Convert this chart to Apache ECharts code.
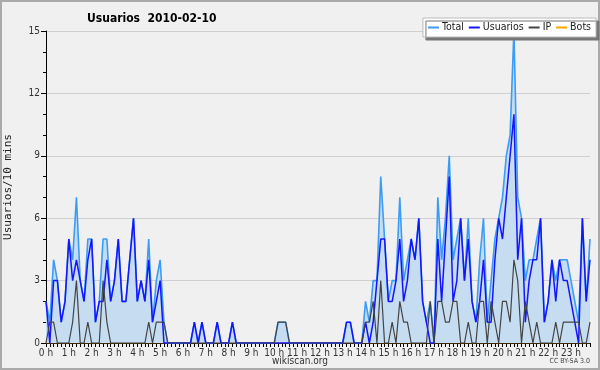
<!DOCTYPE html>
<html>
<head>
<meta charset="utf-8">
<script src="https://cdn.jsdelivr.net/npm/echarts@6/dist/echarts.min.js"></script>
<style>
  html, body { margin: 0; padding: 0; background: #f0f0f0; }
  #chart { width: 600px; height: 370px; }
</style>
</head>
<body>
<div id="chart"></div>
<script>
// horas del eje x (cada hora = 6 intervalos de 10 min)
var hours = ['0 h', '1 h', '2 h', '3 h', '4 h', '5 h', '6 h', '7 h', '8 h', '9 h', '10 h', '11 h',
  '12 h', '13 h', '14 h', '15 h', '16 h', '17 h', '18 h', '19 h', '20 h', '21 h', '22 h', '23 h'];
var yTicks = [0, 3, 6, 9, 12, 15];

// valores cada 10 minutos
var total = [
  2, 1, 4, 3, 1, 2, 5, 4, 7, 3, 2, 5,
  5, 1, 2, 5, 5, 2, 3, 5, 2, 2, 4, 6,
  2, 3, 2, 5, 1, 3, 4, 1, 0, 0, 0, 0,
  0, 0, 0, 1, 0, 1, 0, 0, 0, 1, 0, 0,
  0, 1, 0, 0, 0, 0, 0, 0, 0, 0, 0, 0,
  0, 1, 1, 1, 0, 0, 0, 0, 0, 0, 0, 0,
  0, 0, 0, 0, 0, 0, 0, 1, 1, 0, 0, 0,
  2, 1, 3, 3, 8, 5, 2, 3, 3, 7, 3, 4,
  5, 4, 6, 2, 1, 2, 0, 7, 4, 6, 9, 4,
  5, 6, 3, 6, 2, 1, 4, 6, 1, 3, 5, 6,
  7, 9, 10, 15, 7, 6, 3, 4, 4, 5, 6, 1,
  2, 4, 3, 4, 4, 4, 3, 2, 1, 6, 2, 5
];
var usuarios = [
  2, 0, 3, 3, 1, 2, 5, 3, 4, 3, 2, 4,
  5, 1, 2, 2, 4, 2, 3, 5, 2, 2, 4, 6,
  2, 3, 2, 4, 1, 2, 3, 0, 0, 0, 0, 0,
  0, 0, 0, 1, 0, 1, 0, 0, 0, 1, 0, 0,
  0, 1, 0, 0, 0, 0, 0, 0, 0, 0, 0, 0,
  0, 0, 0, 0, 0, 0, 0, 0, 0, 0, 0, 0,
  0, 0, 0, 0, 0, 0, 0, 1, 1, 0, 0, 0,
  1, 0, 1, 3, 5, 5, 2, 2, 3, 5, 2, 3,
  5, 4, 6, 2, 1, 0, 0, 5, 2, 5, 8, 2,
  3, 6, 3, 5, 2, 1, 2, 4, 1, 1, 4, 6,
  5, 7, 9, 11, 4, 6, 1, 3, 4, 4, 6, 1,
  2, 4, 2, 4, 3, 3, 2, 1, 0, 6, 2, 4
];
var ip = [
  0, 1, 1, 0, 0, 0, 0, 1, 3, 0, 0, 1,
  0, 0, 0, 3, 1, 0, 0, 0, 0, 0, 0, 0,
  0, 0, 0, 1, 0, 1, 1, 1, 0, 0, 0, 0,
  0, 0, 0, 0, 0, 0, 0, 0, 0, 0, 0, 0,
  0, 0, 0, 0, 0, 0, 0, 0, 0, 0, 0, 0,
  0, 1, 1, 1, 0, 0, 0, 0, 0, 0, 0, 0,
  0, 0, 0, 0, 0, 0, 0, 0, 0, 0, 0, 0,
  1, 1, 2, 0, 3, 0, 0, 1, 0, 2, 1, 1,
  0, 0, 0, 0, 0, 2, 0, 2, 2, 1, 1, 2,
  2, 0, 0, 1, 0, 0, 2, 2, 0, 2, 1, 0,
  2, 2, 1, 4, 3, 0, 2, 1, 0, 1, 0, 0,
  0, 0, 1, 0, 1, 1, 1, 1, 1, 0, 0, 1
];
var bots = [
  0, 0, 0, 0, 0, 0, 0, 0, 0, 0, 0, 0,
  0, 0, 0, 0, 0, 0, 0, 0, 0, 0, 0, 0,
  0, 0, 0, 0, 0, 0, 0, 0, 0, 0, 0, 0,
  0, 0, 0, 0, 0, 0, 0, 0, 0, 0, 0, 0,
  0, 0, 0, 0, 0, 0, 0, 0, 0, 0, 0, 0,
  0, 0, 0, 0, 0, 0, 0, 0, 0, 0, 0, 0,
  0, 0, 0, 0, 0, 0, 0, 0, 0, 0, 0, 0,
  0, 0, 0, 0, 0, 0, 0, 0, 0, 0, 0, 0,
  0, 0, 0, 0, 0, 0, 0, 0, 0, 0, 0, 0,
  0, 0, 0, 0, 0, 0, 0, 0, 0, 0, 0, 0,
  0, 0, 0, 0, 0, 0, 0, 0, 0, 0, 0, 0,
  0, 0, 0, 0, 0, 0, 0, 0, 0, 0, 0, 0
];

// categorias: 6 intervalos por hora
var categories = [];
hours.forEach(function (h) {
  for (var m = 0; m < 6; m++) {
    categories.push(m === 0 ? h : h + ' ' + m + '0');
  }
});

var myChart = echarts.init(document.getElementById('chart'));

function linea(name, data, color, width, z) {
  return {
    name: name,
    type: 'line',
    data: data,
    symbol: 'none',
    z: z,
    lineStyle: { color: color, width: width },
    itemStyle: { color: color }
  };
}

var serieTotal = linea('Total', total, '#3b9cf5', 1.6, 2);
serieTotal.areaStyle = { color: '#c5dcf1', opacity: 1 };

var option = {
  backgroundColor: '#f0f0f0',
  animation: false,
  textStyle: { fontFamily: 'DejaVu Sans Condensed' },
  title: {
    text: 'Usuarios  2010-02-10',
    left: 82,
    top: 8,
    textStyle: { fontSize: 12, fontWeight: 'bold', color: '#000', fontFamily: 'DejaVu Sans Condensed' }
  },
  legend: {
    data: ['Total', 'Usuarios', 'IP', 'Bots'],
    right: 4,
    top: 18,
    icon: 'rect',
    itemWidth: 11,
    itemHeight: 2,
    itemGap: 5,
    padding: [4, 5, 4, 5],
    backgroundColor: '#fff',
    borderColor: '#bbb',
    borderWidth: 1,
    shadowColor: '#777',
    shadowOffsetX: 3,
    shadowOffsetY: 3,
    shadowBlur: 0,
    textStyle: { fontSize: 10.5, color: '#222', padding: [0, 0, 0, -2] }
  },
  grid: { left: 46, right: 10, top: 31, bottom: 27, containLabel: false, outerBoundsMode: 'none' },
  xAxis: {
    type: 'category',
    data: categories,
    boundaryGap: false,
    axisLine: { lineStyle: { color: '#000', width: 1 } },
    axisTick: { interval: 0, length: 4, inside: false, lineStyle: { color: '#000' } },
    axisLabel: {
      interval: 5,
      margin: 5,
      fontSize: 10,
      color: '#333',
      formatter: function (v) { return hours.indexOf(v) >= 0 ? v : ''; }
    },
    splitLine: { show: false }
  },
  yAxis: {
    type: 'value',
    min: yTicks[0],
    max: yTicks[yTicks.length - 1],
    interval: 3,
    name: 'Usuarios/10 mins',
    nameLocation: 'middle',
    nameRotate: 90,
    nameGap: 32,
    nameTextStyle: { fontFamily: 'DejaVu Sans Mono', fontSize: 11, color: '#222' },
    axisLine: { show: true, lineStyle: { color: '#000' } },
    axisTick: { show: true, length: 5, lineStyle: { color: '#000' } },
    minorTick: { show: true, splitNumber: 3, length: 3, lineStyle: { color: '#000' } },
    axisLabel: { fontSize: 10, color: '#333', margin: 6 },
    splitLine: { lineStyle: { color: '#cfcfcf', width: 1 } }
  },
  graphic: [
    {
      type: 'rect',
      shape: { x: 1, y: 1, width: 598, height: 368 },
      style: { fill: 'none', stroke: '#aaa', lineWidth: 2 },
      silent: true
    },
    {
      type: 'text',
      left: 'center',
      top: 356,
      style: { text: 'wikiscan.org', fontSize: 10, fill: '#333', fontFamily: 'DejaVu Sans Condensed' }
    },
    {
      type: 'text',
      right: 10,
      top: 358,
      style: { text: 'CC BY-SA 3.0', fontSize: 7, fill: '#444', fontFamily: 'DejaVu Sans Condensed' }
    }
  ],
  series: [
    serieTotal,
    linea('Usuarios', usuarios, '#1414ff', 1.5, 3),
    linea('IP', ip, '#444444', 1.2, 4),
    linea('Bots', bots, '#ffa500', 1.2, 1)
  ]
};

myChart.setOption(option);
</script>
</body>
</html>
